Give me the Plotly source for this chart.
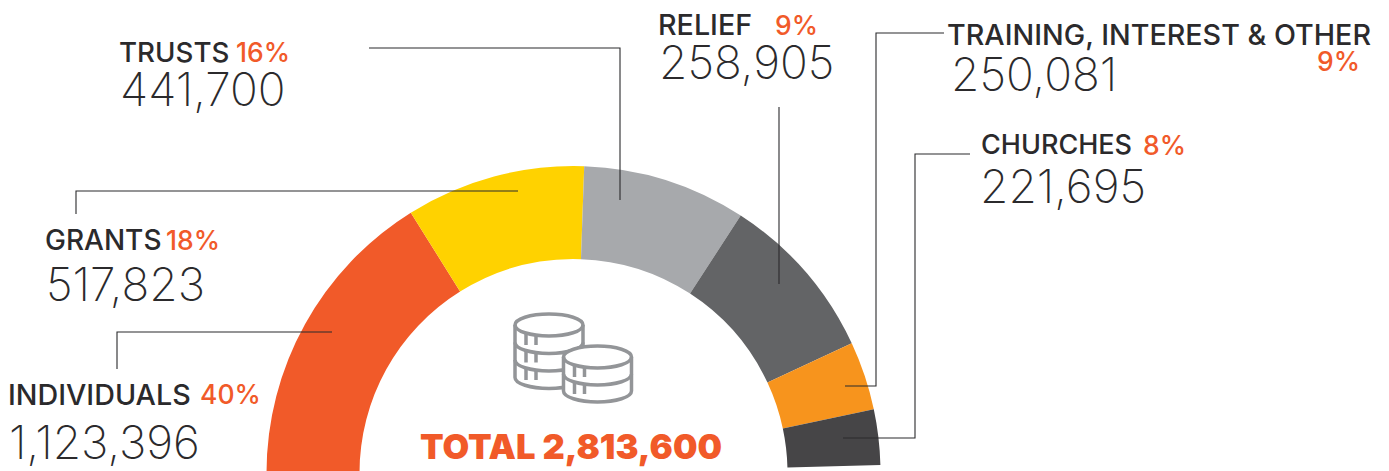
import plotly.graph_objects as go

OFFSET = 8  # the page's own body margin
W, H = 1381, 772

categories = ["INDIVIDUALS", "GRANTS", "TRUSTS", "RELIEF", "TRAINING, INTEREST & OTHER", "CHURCHES"]
amounts = ["1,123,396", "517,823", "441,700", "258,905", "250,081", "221,695"]
percents = ["40%", "18%", "16%", "9%", "9%", "8%"]
# arc sweep of each band in degrees, as drawn in the picture (not proportional to the amounts)
arc_degrees = [58, 34, 31, 32, 13, 10.5]
colors = ["#F15A29", "#FFD200", "#A7A9AC", "#636466", "#F7941D", "#464547"]
total_label = "TOTAL 2,813,600"

CX, CY, R, r = 573.5, 473, 307, 214
TEXT = "#2b2a2c"; ORANGE = "#F15A29"; LINE = "#2b2a2c"; ICON = "#939598"
FONT = "Inter"


def px(x): return (x - OFFSET) / W
def py(y): return 1 - (y - OFFSET) / H


hidden = 360 - sum(arc_degrees)
pie = go.Pie(
    values=arc_degrees + [hidden],
    labels=categories + ["hidden"],
    sort=False, direction="clockwise", rotation=270,
    hole=r / R,
    marker=dict(colors=colors + ["rgba(0,0,0,0)"], line=dict(width=0)),
    textinfo="none", hoverinfo="skip", showlegend=False,
    domain=dict(x=[px(CX - R), px(CX + R)], y=[max(0, py(CY + R)), py(CY - R)]),
)
fig = go.Figure(pie)

shapes = []


def poly(points, color=LINE, width=1.1):
    d = "M " + " L ".join(f"{px(x):.5f},{py(y):.5f}" for x, y in points)
    shapes.append(dict(type="path", path=d, xref="paper", yref="paper",
                       line=dict(color=color, width=width), layer="above"))


poly([(369, 48), (620, 48), (620, 200)])
poly([(76, 214), (76, 191), (518, 191)])
poly([(117, 369), (117, 332), (332, 332)])
poly([(779, 107), (779, 284)])
poly([(944, 33), (876, 33), (876, 386), (845, 386)])
poly([(970, 154), (915, 154), (915, 438), (843, 438)])


def pt(x, y): return f"{px(x):.5f},{py(y):.5f}"


def arc_down(cx, y, rx, ry):
    k = 0.552
    return (f"C {pt(cx-rx, y+ry*k)} {pt(cx-rx*k, y+ry)} {pt(cx, y+ry)} "
            f"C {pt(cx+rx*k, y+ry)} {pt(cx+rx, y+ry*k)} {pt(cx+rx, y)}")


def arc_up(cx, y, rx, ry):
    k = 0.552
    return (f"C {pt(cx+rx, y-ry*k)} {pt(cx+rx*k, y-ry)} {pt(cx, y-ry)} "
            f"C {pt(cx-rx*k, y-ry)} {pt(cx-rx, y-ry*k)} {pt(cx-rx, y)}")


def stack(cx, top, rx, ry, step, tiers):
    bottom = top + step * tiers
    outline = (f"M {pt(cx-rx, top)} L {pt(cx-rx, bottom)} " + arc_down(cx, bottom, rx, ry)
               + f" L {pt(cx+rx, top)} " + arc_up(cx, top, rx, ry) + " Z")
    shapes.append(dict(type="path", path=outline, xref="paper", yref="paper",
                       fillcolor="white", line=dict(color=ICON, width=3.5), layer="above"))
    for i in range(tiers):
        y = top + step * i
        shapes.append(dict(type="path", path=f"M {pt(cx-rx, y)} " + arc_down(cx, y, rx, ry),
                           xref="paper", yref="paper", line=dict(color=ICON, width=3.5), layer="above"))
        for dx in (11, 21):
            poly([(cx - rx + dx, y + ry - 2), (cx - rx + dx, y + ry + 9)], ICON, 3.5)


stack(549, 325, 34, 11, 17.5, 3)
stack(597.5, 357, 34, 11, 17, 2)

# (label x, label y, pct x, pct y, amount x, amount y)
positions = [
    (8, 394, 200, 394, 9, 442),
    (45, 240, 166, 240, 46, 284),
    (119, 52, 236, 52, 120, 89),
    (658, 25, 775, 25, 659, 62),
    (947, 34, 1317, 61, 951, 74),
    (981, 145, 1143, 145, 980, 186),
]
label_sizes = [28.7, 28, 27.7, 28.7, 28.7, 27]
ann = []


def text(x, y, s, size, color, weight, anchor="left"):
    ann.append(dict(x=px(x), y=py(y), xref="paper", yref="paper", text=s, showarrow=False,
                    xanchor=anchor, yanchor="middle", borderpad=0, borderwidth=0,
                    font=dict(family=FONT, size=size, color=color, weight=weight)))


for c, a, p, s, (lx, ly, qx, qy, ax, ay) in zip(categories, amounts, percents, label_sizes, positions):
    text(lx, ly, c, s, TEXT, 500)
    text(qx, qy, p, 26.5, ORANGE, 500)
    text(ax, ay, a, 46, TEXT, 200)
text(571, 446, total_label, 34.5, ORANGE, 900, "center")

fig.update_layout(width=W, height=H, margin=dict(l=0, r=0, t=0, b=0),
                  paper_bgcolor="white", plot_bgcolor="white",
                  shapes=shapes, annotations=ann, showlegend=False)
fig.write_html("out.html", config=dict(displayModeBar=False))
